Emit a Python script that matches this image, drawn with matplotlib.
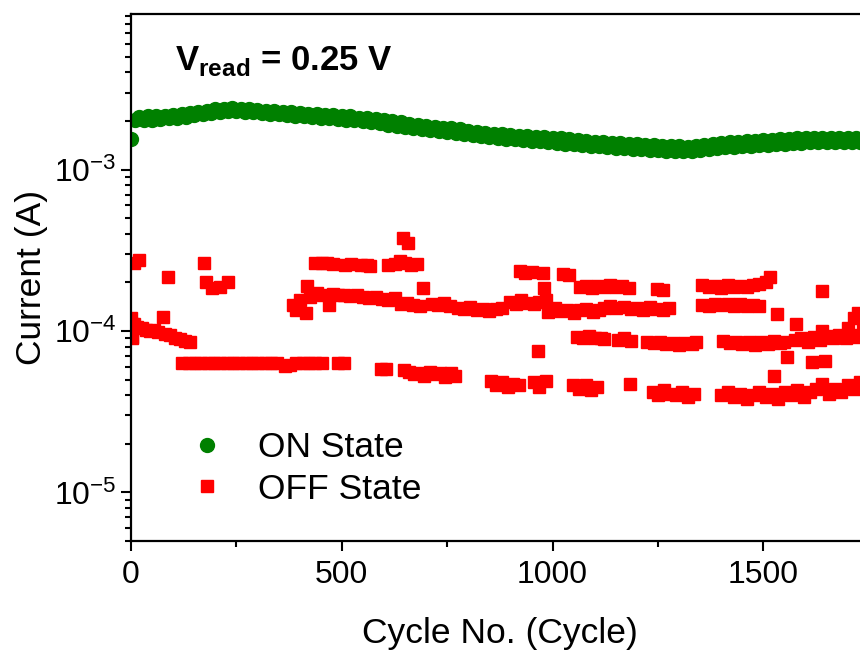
import matplotlib
matplotlib.use("Agg")
import matplotlib.pyplot as plt
import numpy as np

plt.rcParams["font.family"] = ["Liberation Sans", "DejaVu Sans"]
plt.rcParams["mathtext.fontset"] = "custom"
plt.rcParams["mathtext.rm"] = "Liberation Sans"
plt.rcParams["mathtext.bf"] = "Liberation Sans:bold"

# ON state, one reading every 10 cycles (current in mA)
on_cycle = np.arange(0, 1760, 10)
on_current_mA = [
    1.55, 2.02, 2.12, 2.03, 2.14, 2.04, 2.15, 2.06, 2.16, 2.08,
    2.18, 2.10, 2.20, 2.13, 2.24, 2.17, 2.29, 2.22, 2.32, 2.25,
    2.36, 2.28, 2.39, 2.31, 2.40, 2.31, 2.38, 2.28, 2.36, 2.26,
    2.34, 2.24, 2.32, 2.22, 2.30, 2.20, 2.29, 2.18, 2.27, 2.16,
    2.24, 2.14, 2.22, 2.11, 2.21, 2.09, 2.19, 2.08, 2.17, 2.06,
    2.15, 2.04, 2.14, 2.02, 2.10, 1.99, 2.08, 1.96, 2.05, 1.93,
    2.02, 1.90, 1.99, 1.86, 1.96, 1.83, 1.92, 1.80, 1.89, 1.78,
    1.86, 1.75, 1.84, 1.74, 1.82, 1.71, 1.80, 1.69, 1.78, 1.67,
    1.74, 1.64, 1.72, 1.61, 1.69, 1.59, 1.67, 1.57, 1.66, 1.55,
    1.64, 1.54, 1.62, 1.52, 1.61, 1.51, 1.60, 1.50, 1.59, 1.49,
    1.58, 1.47, 1.56, 1.45, 1.54, 1.44, 1.52, 1.42, 1.51, 1.41,
    1.49, 1.40, 1.48, 1.38, 1.47, 1.37, 1.46, 1.36, 1.45, 1.35,
    1.44, 1.34, 1.43, 1.33, 1.42, 1.32, 1.41, 1.31, 1.40, 1.31,
    1.40, 1.30, 1.39, 1.31, 1.40, 1.32, 1.42, 1.34, 1.44, 1.36,
    1.46, 1.38, 1.48, 1.39, 1.49, 1.40, 1.50, 1.41, 1.51, 1.42,
    1.52, 1.43, 1.53, 1.44, 1.54, 1.45, 1.55, 1.46, 1.56, 1.47,
    1.57, 1.48, 1.57, 1.48, 1.58, 1.49, 1.58, 1.49, 1.58, 1.49,
    1.57, 1.48, 1.57, 1.48, 1.56, 1.48,
]

# OFF state readings (cycle, current in units of 1e-4 A)
off_cycle = [
    # start and early decay
    0, 2, 2, 3, 8, 15, 25, 35, 45, 55, 65, 76, 80, 92, 104, 116, 128, 140,
    # isolated high points at the start
    8, 18, 88, 173, 178, 192, 212, 230,
    # flat low level
    122, 137, 152, 167, 182, 197, 212, 227, 242, 257, 272, 287, 302, 317,
    332, 347, 365, 377, 392, 407, 422, 437, 452, 490, 505,
    592, 604, 648, 660, 672, 684, 696, 708, 720, 732, 745, 758, 768,
    # middle level 380-700
    385, 392, 400, 415, 418, 425, 440, 455, 470, 478, 490, 505, 520, 535,
    550, 565, 580, 595, 610, 625, 640, 655, 670, 685, 692,
    # upper level 430-680
    437, 452, 466, 478, 507, 522, 546, 560, 568, 610, 625, 638, 650, 663,
    678, 646, 658,
    # middle level 700-1000
    715, 728, 742, 756, 775, 790, 805, 820, 835, 850, 865, 880, 898, 912,
    925, 940, 955, 968, 980, 985, 990, 965,
    922, 935, 950, 978, 1025, 1040,
    # 1000-1280 two rows
    1005, 1020, 1035, 1050, 1065, 1080, 1095, 1110, 1122, 1135, 1150, 1170,
    1185, 1200, 1215, 1230, 1245, 1262, 1275,
    1066, 1080, 1094, 1108, 1122, 1136, 1150, 1165, 1180, 1248, 1262,
    # ~9e-5 row
    1058, 1072, 1086, 1100, 1114, 1122, 1155, 1170, 1185,
    1225, 1240, 1255, 1270, 1285, 1300, 1315, 1330, 1340,
    1405, 1420, 1435, 1450, 1465, 1480, 1495, 1510, 1525, 1540, 1548,
    1575, 1590, 1605, 1620, 1635, 1650, 1665, 1680, 1695, 1710, 1725, 1740,
    # 1340-1520 two rows
    1355, 1370, 1385, 1400, 1415, 1430, 1445, 1460, 1475, 1490, 1505, 1515,
    1355, 1370, 1385, 1400, 1415, 1430, 1445, 1460, 1475, 1490,
    # scattered at the right
    1533, 1525, 1555, 1578, 1614, 1645, 1638, 1640, 1700, 1715, 1725, 1735,
    # lowest level
    853, 866, 880, 893, 906, 920, 955, 968, 985, 1048, 1062, 1078, 1092,
    1106, 1183, 1237, 1251, 1265, 1279, 1293, 1307, 1321, 1335,
    1400, 1415, 1430, 1445, 1460, 1475, 1490, 1505, 1520, 1535, 1550, 1565,
    1580, 1595, 1610, 1625, 1640, 1655, 1670, 1685, 1700, 1715, 1730, 1740,
]
off_current_e4 = [
    1.20, 1.10, 0.92, 0.90, 1.10, 1.06, 1.04, 1.02, 1.00, 1.01, 0.98, 1.23,
    0.96, 0.94, 0.91, 0.89, 0.87, 0.86,
    2.65, 2.75, 2.15, 2.65, 2.00, 1.85, 1.88, 2.00,
    0.63, 0.63, 0.63, 0.63, 0.63, 0.63, 0.63, 0.63, 0.63, 0.63, 0.63, 0.63,
    0.63, 0.63, 0.63, 0.63, 0.61, 0.62, 0.63, 0.63, 0.63, 0.63, 0.63, 0.63,
    0.63,
    0.58, 0.58, 0.57, 0.56, 0.54, 0.55, 0.53, 0.56, 0.54, 0.55, 0.52, 0.55,
    0.53,
    1.45, 1.35, 1.55, 1.30, 1.90, 1.62, 1.72, 1.68, 1.45, 1.70, 1.66, 1.68,
    1.65, 1.68, 1.62, 1.60, 1.62, 1.58, 1.55, 1.60, 1.48, 1.50, 1.45, 1.42,
    1.86,
    2.62, 2.65, 2.62, 2.60, 2.58, 2.60, 2.55, 2.57, 2.52, 2.55, 2.60, 2.70,
    2.62, 2.55, 2.60, 3.75, 3.50,
    1.48, 1.45, 1.50, 1.43, 1.38, 1.36, 1.40, 1.34, 1.37, 1.33, 1.36, 1.38,
    1.52, 1.48, 1.55, 1.50, 1.46, 1.52, 1.85, 1.55, 1.32, 0.75,
    2.35, 2.30, 2.32, 2.30, 2.25, 2.22,
    1.38, 1.33, 1.35, 1.30, 1.34, 1.36, 1.32, 1.35, 1.38, 1.42, 1.38, 1.40,
    1.36, 1.38, 1.35, 1.40, 1.37, 1.35, 1.38,
    1.88, 1.90, 1.86, 1.90, 1.87, 1.92, 1.88, 1.90, 1.86, 1.82, 1.80,
    0.92, 0.90, 0.93, 0.90, 0.91, 0.89, 0.88, 0.90, 0.87,
    0.86, 0.84, 0.85, 0.83, 0.84, 0.82, 0.84, 0.83, 0.85,
    0.87, 0.84, 0.86, 0.83, 0.85, 0.82, 0.86, 0.83, 0.87, 0.84, 0.86,
    0.88, 0.90, 0.86, 0.92, 0.88, 0.93, 0.90, 0.94, 0.91, 0.95, 0.92, 0.96,
    1.92, 1.88, 1.90, 1.86, 1.92, 1.88, 1.90, 1.87, 1.92, 1.95, 2.00, 2.15,
    1.45, 1.42, 1.46, 1.44, 1.47, 1.43, 1.46, 1.42, 1.45, 1.43,
    1.27, 0.525, 0.69, 1.10, 0.64, 0.65, 1.00, 1.76, 1.05, 1.20, 1.30, 1.10,
    0.49, 0.46, 0.48, 0.45, 0.47, 0.46, 0.48, 0.45, 0.49, 0.46, 0.44, 0.46,
    0.43, 0.45, 0.47, 0.42, 0.40, 0.43, 0.41, 0.40, 0.42, 0.39, 0.41,
    0.40, 0.42, 0.39, 0.41, 0.38, 0.40, 0.42, 0.39, 0.41, 0.38, 0.42, 0.40,
    0.43, 0.39, 0.42, 0.44, 0.47, 0.41, 0.44, 0.42, 0.46, 0.44, 0.48, 0.45,
]

on_current = np.array(on_current_mA) * 1e-3
off_current = np.array(off_current_e4) * 1e-4

fig = plt.figure(figsize=(8.6, 6.52), dpi=100)
# right spine sits just past the picture edge, as in the cropped original
ax = fig.add_axes([0.1523, 0.1702, 0.858, 0.8083])

ax.plot(on_cycle, on_current, "o", color="#008000", ms=10, mec="#008000",
        label="ON State")
ax.plot(off_cycle, off_current, "s", color="#ff0000", ms=8.5, mec="#ff0000",
        label="OFF State")

ax.set_yscale("log")
ax.set_xlim(0, 1750)
ax.set_ylim(5e-6, 9.2e-3)
ax.set_xticks([0, 500, 1000, 1500])
ax.set_xticks([250, 750, 1250, 1750], minor=True)

for s in ax.spines.values():
    s.set_linewidth(1.6)
ax.tick_params(which="both", direction="out", top=False, right=False,
               labelsize=23, width=1.5)
ax.tick_params(which="major", length=7)
ax.tick_params(which="minor", length=4)
ax.tick_params(axis="x", pad=7)

ax.set_xlabel("Cycle No. (Cycle)", fontsize=25.5, labelpad=19)
ax.set_ylabel("Current (A)", fontsize=25.5, labelpad=4)

ax.text(0.0596, 0.894, r"$\mathbf{V}_{\mathbf{read}}$ = 0.25 V",
        transform=ax.transAxes, fontsize=25, fontweight="bold",
        ha="left", va="baseline")

ax.legend(loc="lower left", bbox_to_anchor=(0.0596, 0.040), frameon=False,
          fontsize=25.5, handlelength=1.0, handletextpad=0.94,
          labelspacing=0.24, borderaxespad=0, markerscale=1.0)

fig.savefig("out.png", dpi=100)
plt.close(fig)
